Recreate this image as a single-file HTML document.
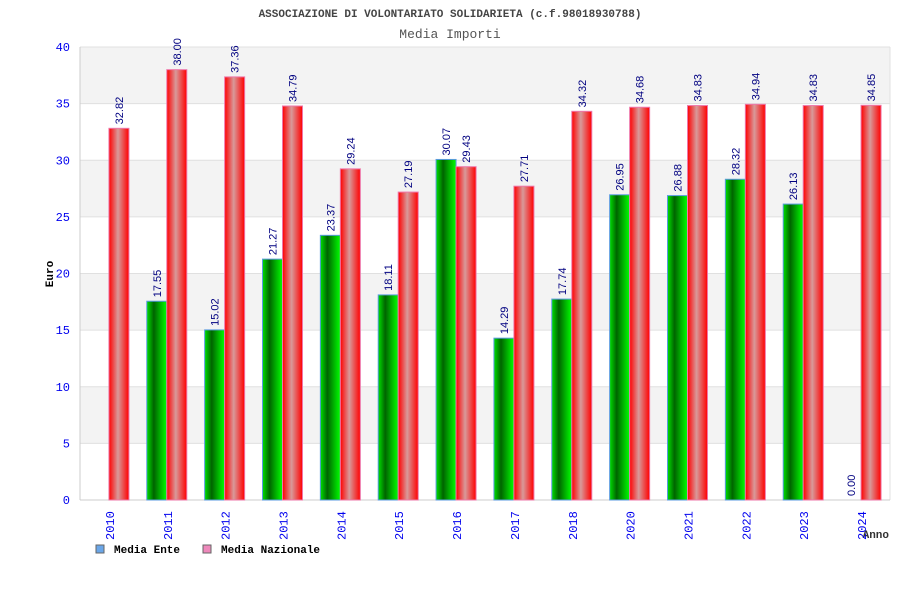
<!DOCTYPE html>
<html><head><meta charset="utf-8"><style>
body{margin:0;background:#fff;width:900px;height:600px;overflow:hidden}
text{font-family:"Liberation Mono","DejaVu Sans Mono",monospace}
text.val{font-family:"Liberation Sans","DejaVu Sans",sans-serif}
</style></head><body>
<svg id="c" width="900" height="600" xmlns="http://www.w3.org/2000/svg">
<defs>
<linearGradient id="gG" x1="0" x2="1" y1="0" y2="0"><stop offset="0" stop-color="#00e000"/><stop offset="0.35" stop-color="#006400"/><stop offset="1" stop-color="#00ff00"/></linearGradient>
<linearGradient id="gR" x1="0" x2="1" y1="0" y2="0"><stop offset="0" stop-color="#ff0000"/><stop offset="0.45" stop-color="#d89a9a"/><stop offset="1" stop-color="#ff0000"/></linearGradient>
</defs>
<text x="450" y="17" text-anchor="middle" font-size="11" font-weight="bold" fill="#444">ASSOCIAZIONE DI VOLONTARIATO SOLIDARIETA (c.f.98018930788)</text>
<text x="450" y="38" text-anchor="middle" font-size="13" fill="#555">Media Importi</text>
<text transform="translate(53,274) rotate(-90)" text-anchor="middle" font-size="11" font-weight="bold" fill="#000">Euro</text>
<text x="889" y="538" text-anchor="end" font-size="11" font-weight="bold" fill="#333">Anno</text>
<g id="grid"></g><g id="bars"></g><g id="labels"></g>
<rect x="96" y="545" width="8" height="8" fill="#6aa6e8" stroke="#666"/>
<text x="114" y="553" font-size="11" font-weight="bold">Media Ente</text>
<rect x="203" y="545" width="8" height="8" fill="#ee88bb" stroke="#666"/>
<text x="221" y="553" font-size="11" font-weight="bold">Media Nazionale</text>
</svg>
<script>
const categories=["2010","2011","2012","2013","2014","2015","2016","2017","2018","2020","2021","2022","2023","2024"];
const ente=[null,17.55,15.02,21.27,23.37,18.11,30.07,14.29,17.74,26.95,26.88,28.32,26.13,0.00];
const nazionale=[32.82,38.00,37.36,34.79,29.24,27.19,29.43,27.71,34.32,34.68,34.83,34.94,34.83,34.85];
const yTicks=[0,5,10,15,20,25,30,35,40];
const NS="http://www.w3.org/2000/svg";
const L=80,R=890,T=47,B=500,YMAX=40;
const y=v=>B-(v/YMAX)*(B-T);
const gw=(R-L)/categories.length;
const xc=i=>L+gw*(i+0.5);
function mk(t,a,p,txt){const e=document.createElementNS(NS,t);for(const k in a)e.setAttribute(k,a[k]);if(txt!=null)e.textContent=txt;p.appendChild(e);return e;}
const grid=document.getElementById('grid'),bars=document.getElementById('bars'),labels=document.getElementById('labels');
for(let i=0;i<yTicks.length-1;i++){
 if((yTicks.length-2-i)%2===0){const r=mk('rect',{x:L,y:y(yTicks[i+1]),width:R-L,height:y(yTicks[i])-y(yTicks[i+1]),fill:'#f3f3f3'},grid);
 
 }
}
yTicks.forEach(t=>{
 const ln=mk('line',{x1:L,x2:R,y1:y(t),y2:y(t),stroke:'#e0e0e0'},grid);
 
 
 const tx=mk('text',{x:70,y:y(t)+4,'text-anchor':'end','font-size':12,fill:'#0000ee'},grid,t);
 
 
});
mk('line',{x1:L,x2:L,y1:T,y2:B,stroke:'#ccc'},grid);
mk('line',{x1:R,x2:R,y1:T,y2:B,stroke:'#e0e0e0'},grid);
mk('line',{x1:L,x2:R,y1:B,y2:B,stroke:'#ccc'},grid);
const bw=20;
categories.forEach((c,i)=>{
 const cx=xc(i);
 if(ente[i]!=null){
  const v=ente[i];
  if(v>0){const r=mk('rect',{x:cx-bw,y:y(v),width:bw,height:B-y(v),fill:'url(#gG)',stroke:'#5a9ae0','stroke-width':1},bars);
  
  }
  const t=mk('text',{class:'val',transform:`translate(${cx-6},${y(v)-4}) rotate(-90)`,'font-size':11,fill:'#000080'},labels,v.toFixed(2));
  
  
 }
 const v2=nazionale[i];
 const r2=mk('rect',{x:cx,y:y(v2),width:bw,height:B-y(v2),fill:'url(#gR)',stroke:'#ee77aa','stroke-width':1},bars);
 
 
 const t2=mk('text',{class:'val',transform:`translate(${cx+14},${y(v2)-4}) rotate(-90)`,'font-size':11,fill:'#000080'},labels,v2.toFixed(2));
 
 
 const xl=mk('text',{transform:`translate(${cx+5},${540}) rotate(-90)`,'font-size':12,fill:'#0000ee'},labels,c);
 
 
});
</script>
</body></html>
